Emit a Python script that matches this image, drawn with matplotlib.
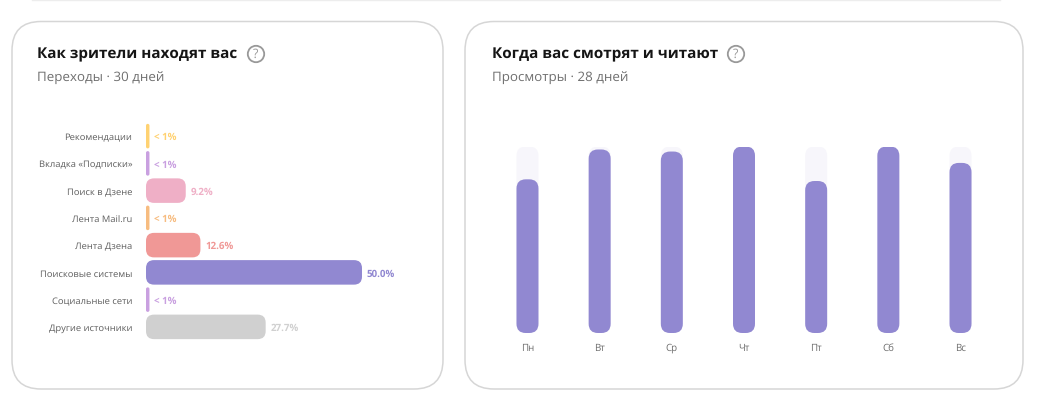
import matplotlib
matplotlib.use("Agg")
import matplotlib.pyplot as plt
from matplotlib.patches import FancyBboxPatch, Circle

W, H = 1048, 402
plt.rcParams['font.family'] = ['Open Sans', 'DejaVu Sans']
plt.rcParams['text.hinting'] = 'no_hinting'

# =================== data ===================
sources = ["Рекомендации", "Вкладка «Подписки»", "Поиск в Дзене", "Лента Mail.ru",
           "Лента Дзена", "Поисковые системы", "Социальные сети", "Другие источники"]
source_values = [0.8, 0.8, 9.2, 0.8, 12.6, 50.0, 0.8, 27.7]
source_labels = ["< 1%", "< 1%", "9.2%", "< 1%", "12.6%", "50.0%", "< 1%", "27.7%"]
source_colors = ["#FFD272", "#C9A0E0", "#EFAFC6", "#F7BC80", "#F09896", "#9188D1", "#C9A0E0", "#D0D0D0"]

days = ["Пн", "Вт", "Ср", "Чт", "Пт", "Сб", "Вс"]
day_values = [82.4, 98.4, 97.3, 100, 81.5, 100, 91.2]
day_max = 100


def axes_px(fig, left, top, right, bottom):
    # axes position given in picture pixels
    ax = fig.add_axes([left / W, 1 - bottom / H, (right - left) / W, (bottom - top) / H])
    ax.patch.set_alpha(0)
    for s in ax.spines.values():
        s.set_visible(False)
    return ax


def card(bg, left, top, right, bottom):
    bg.add_patch(FancyBboxPatch((left, top), right - left, bottom - top,
                                boxstyle="round,pad=0,rounding_size=29",
                                fc="white", ec="#D6D6D6", lw=1.1))


def header(bg, x, title, sub, icon_x):
    bg.text(x, 55, title, fontsize=11.0, fontweight="bold", color="#151515", va="center")
    bg.text(x, 78, sub, fontsize=9.65, color="#6F6F6F", va="center")
    bg.add_patch(Circle((icon_x, 55), 8.2, fc="none", ec="#999999", lw=1.3))
    bg.text(icon_x, 54.5, "?", fontsize=9, color="#999999", ha="center", va="center")


fig = plt.figure(figsize=(W / 100, H / 100), dpi=100, facecolor="white")

# =================== cards, overlay in pixels ===================
bg = fig.add_axes([0, 0, 1, 1])
bg.set_xlim(0, W)
bg.set_ylim(H, 0)
bg.axis("off")
bg.plot([32, 1000], [0.5, 0.5], color="#EDEDED", lw=1)
card(bg, 12, 22.5, 443, 390)
card(bg, 465, 22.5, 1023, 390)
header(bg, 37, "Как зрители находят вас", "Переходы · 30 дней", 256)
header(bg, 492, "Когда вас смотрят и читают", "Просмотры · 28 дней", 736)

# =================== sources ===================
px_per_unit = 4.32
ax1 = axes_px(fig, 146, 123.5, 420, 341.5)
ax1.set_xlim(0, 274 / px_per_unit)
ax1.set_ylim(len(sources) - 0.5, -0.5)
bar_h = 0.9
y_units_per_px = len(sources) / 218
for i, (v, lab, c) in enumerate(zip(source_values, source_labels, source_colors)):
    r = min(8 / px_per_unit, v / 2)
    ax1.add_patch(FancyBboxPatch((0, i - bar_h / 2), v, bar_h,
                                 boxstyle=f"round,pad=0,rounding_size={r}",
                                 mutation_aspect=y_units_per_px * px_per_unit,
                                 fc=c, ec="none"))
    ax1.text(v + 1.1, i + 0.02, lab, color=c, fontsize=7, fontweight="bold", va="center")
ax1.set_xticks([])
ax1.set_yticks(range(len(sources)))
ax1.set_yticklabels(sources, fontsize=6.75, color="#5E5E5E")
ax1.tick_params(axis="y", length=0, pad=10)

# =================== days ===================
ax2 = axes_px(fig, 491.4, 147.5, 996.6, 334)
ax2.set_xlim(-0.5, 6.5)
ax2.set_ylim(0, day_max)
bar_w = 22 / 72.2
aspect = (day_max / 186.5) * (505.2 / 7)
for i, v in enumerate(day_values):
    r = bar_w * 0.42
    for val, c, z in [(day_max, "#F7F6FB", 1), (v, "#9188D1", 2)]:
        ax2.add_patch(FancyBboxPatch((i - bar_w / 2, 0), bar_w, val,
                                     boxstyle=f"round,pad=0,rounding_size={r}",
                                     mutation_aspect=aspect, fc=c, ec="none", zorder=z))
ax2.set_yticks([])
ax2.set_xticks(range(len(days)))
ax2.set_xticklabels(days, fontsize=7, color="#6E6E6E")
ax2.tick_params(axis="x", length=0, pad=6.5)

fig.savefig("out.png", dpi=100)
